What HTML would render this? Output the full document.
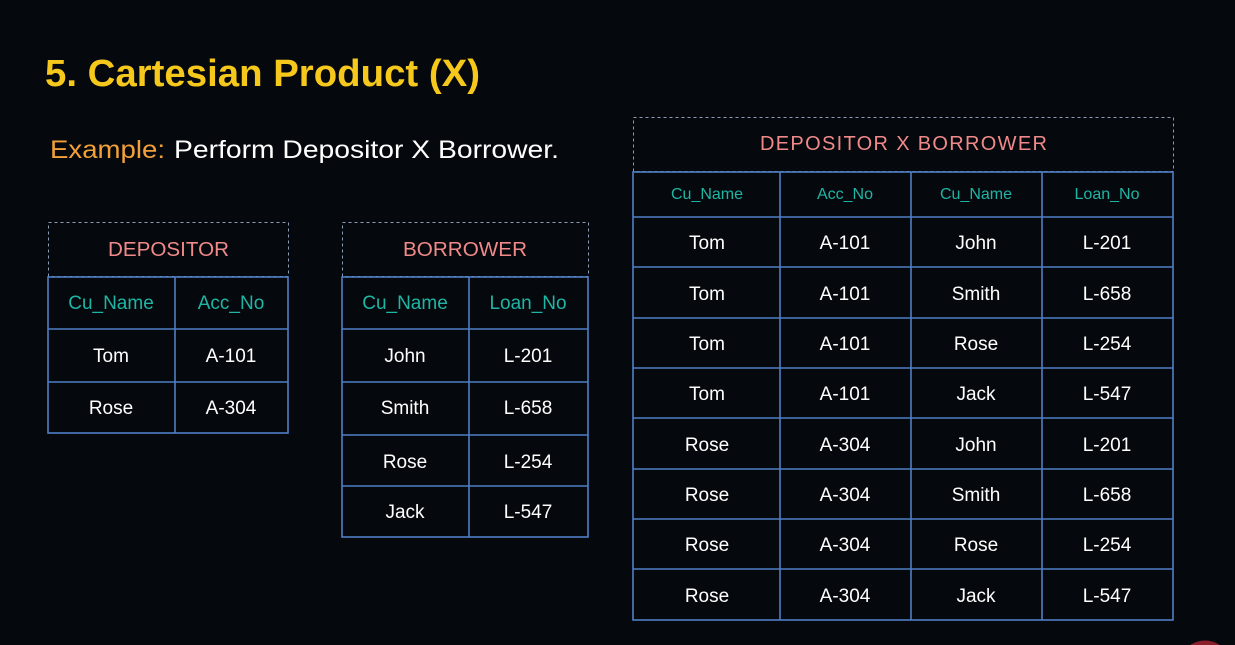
<!DOCTYPE html>
<html><head><meta charset="utf-8"><style>
html,body{margin:0;padding:0;background:#05090d;}
svg{display:block}
text{font-family:"Liberation Sans",sans-serif;}
</style></head><body>
<svg width="1235" height="645" xmlns="http://www.w3.org/2000/svg">
<rect width="1235" height="645" fill="#05090d"/>
<text x="45" y="86" font-size="38" font-weight="bold" fill="#f6c81c" textLength="435" lengthAdjust="spacingAndGlyphs">5. Cartesian Product (X)</text>
<text x="50" y="158" font-size="25" fill="#f2a13a" textLength="115" lengthAdjust="spacingAndGlyphs">Example:</text>
<text x="174" y="158" font-size="25" fill="#ffffff" textLength="385" lengthAdjust="spacingAndGlyphs">Perform Depositor X Borrower.</text>

<g fill="none" stroke="#8a9bb5" stroke-width="1" stroke-dasharray="3,3">
<rect x="48.5" y="222.5" width="240" height="54"/>
<rect x="342.5" y="222.5" width="246" height="54"/>
<rect x="633.5" y="117.5" width="540" height="54"/>
</g>
<g fill="none" stroke="#4f7fc4" stroke-width="1.6">
<rect x="48" y="277" width="240" height="156"/>
<line x1="48" y1="329" x2="288" y2="329"/><line x1="48" y1="382" x2="288" y2="382"/>
<line x1="175" y1="277" x2="175" y2="433"/>
<rect x="342" y="277" width="246" height="260"/>
<line x1="342" y1="329" x2="588" y2="329"/><line x1="342" y1="382" x2="588" y2="382"/>
<line x1="342" y1="435" x2="588" y2="435"/><line x1="342" y1="486" x2="588" y2="486"/>
<line x1="469" y1="277" x2="469" y2="537"/>
<rect x="633" y="172" width="540" height="448"/>
<line x1="633" y1="217" x2="1173" y2="217"/><line x1="633" y1="267" x2="1173" y2="267"/>
<line x1="633" y1="318" x2="1173" y2="318"/><line x1="633" y1="368" x2="1173" y2="368"/>
<line x1="633" y1="418" x2="1173" y2="418"/><line x1="633" y1="469" x2="1173" y2="469"/>
<line x1="633" y1="519" x2="1173" y2="519"/><line x1="633" y1="569" x2="1173" y2="569"/>
<line x1="780" y1="172" x2="780" y2="620"/><line x1="911" y1="172" x2="911" y2="620"/>
<line x1="1042" y1="172" x2="1042" y2="620"/>
</g>
<g font-size="20" fill="#f08a8a">
<text x="108" y="256" textLength="121" lengthAdjust="spacingAndGlyphs">DEPOSITOR</text>
<text x="403" y="256" textLength="124" lengthAdjust="spacingAndGlyphs">BORROWER</text>
<text x="760" y="150" textLength="287" lengthAdjust="spacing">DEPOSITOR  X  BORROWER</text>
</g>
<g text-anchor="middle" font-size="19" fill="#1fb5a5">
<text x="111" y="309">Cu_Name</text><text x="231" y="309">Acc_No</text>
<text x="405" y="309">Cu_Name</text><text x="528" y="309">Loan_No</text>
</g>
<g text-anchor="middle" font-size="16" fill="#1fb5a5">
<text x="707" y="199">Cu_Name</text><text x="845" y="199">Acc_No</text>
<text x="976" y="199">Cu_Name</text><text x="1107" y="199">Loan_No</text>
</g>
<g text-anchor="middle" font-size="19" fill="#ffffff">
<text x="111" y="362">Tom</text><text x="231" y="362">A-101</text>
<text x="111" y="414">Rose</text><text x="231" y="414">A-304</text>
<text x="405" y="362">John</text><text x="528" y="362">L-201</text>
<text x="405" y="414">Smith</text><text x="528" y="414">L-658</text>
<text x="405" y="468">Rose</text><text x="528" y="468">L-254</text>
<text x="405" y="518">Jack</text><text x="528" y="518">L-547</text>

<text x="707" y="249">Tom</text><text x="845" y="249">A-101</text><text x="976" y="249">John</text><text x="1107" y="249">L-201</text>
<text x="707" y="300">Tom</text><text x="845" y="300">A-101</text><text x="976" y="300">Smith</text><text x="1107" y="300">L-658</text>
<text x="707" y="350">Tom</text><text x="845" y="350">A-101</text><text x="976" y="350">Rose</text><text x="1107" y="350">L-254</text>
<text x="707" y="400">Tom</text><text x="845" y="400">A-101</text><text x="976" y="400">Jack</text><text x="1107" y="400">L-547</text>
<text x="707" y="451">Rose</text><text x="845" y="451">A-304</text><text x="976" y="451">John</text><text x="1107" y="451">L-201</text>
<text x="707" y="501">Rose</text><text x="845" y="501">A-304</text><text x="976" y="501">Smith</text><text x="1107" y="501">L-658</text>
<text x="707" y="551">Rose</text><text x="845" y="551">A-304</text><text x="976" y="551">Rose</text><text x="1107" y="551">L-254</text>
<text x="707" y="602">Rose</text><text x="845" y="602">A-304</text><text x="976" y="602">Jack</text><text x="1107" y="602">L-547</text>
</g>
<path d="M1190 645 Q1205 636 1220 645 Z" fill="#8a1e2a"/>
</svg>
</body></html>
